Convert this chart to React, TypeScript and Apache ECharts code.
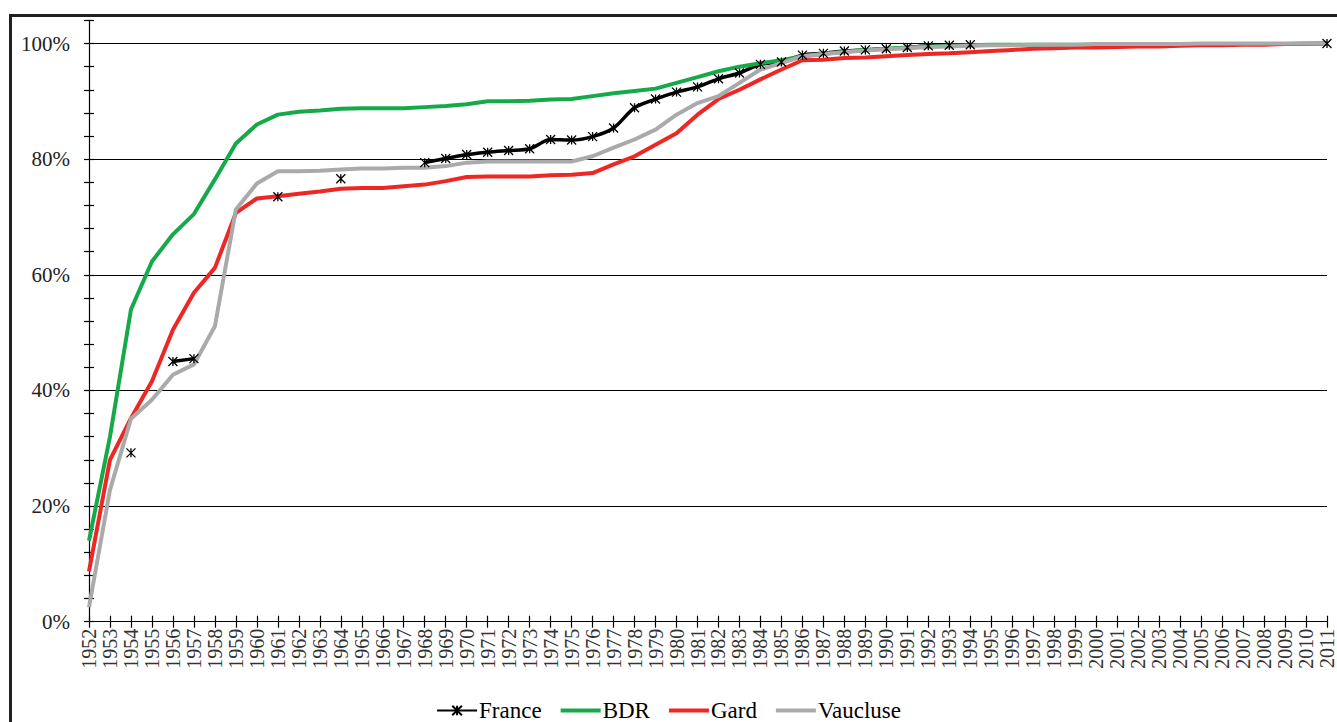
import React, { useEffect, useRef } from "react";
import * as echarts from "echarts";

const years: string[] = [];
for (let y = 1952; y <= 2011; y++) years.push(String(y));

const france: (number | null)[] = [
  null, null, 29.2, null, 45.0, 45.5, null, null, null, 73.5,
  null, null, 76.6, null, null, null, 79.4, 80.1, 80.8, 81.2,
  81.5, 81.8, 83.4, 83.3, 83.9, 85.4, 88.9, 90.4, 91.6, 92.5,
  93.9, 94.9, 96.4, 96.8, 98.0, 98.3, 98.7, 98.9, 99.1, 99.3,
  99.6, 99.7, 99.8, null, null, null, null, null, null, null,
  null, null, null, null, null, null, null, null, null, 100,
];

const bdr: number[] = [
  14.0, 32.0, 54.0, 62.3, 67.0, 70.5, 76.5, 82.7, 86.0, 87.7,
  88.2, 88.4, 88.7, 88.8, 88.8, 88.8, 89.0, 89.2, 89.5, 90.0,
  90.0, 90.1, 90.3, 90.4, 90.9, 91.4, 91.8, 92.2, 93.2, 94.2,
  95.2, 96.0, 96.6, 97.1, 97.8, 98.2, 98.6, 98.9, 99.1, 99.3,
  99.5, 99.6, 99.7, 99.8, 99.8, 99.8, 99.8, 99.8, 99.8, 99.8,
  99.8, 99.8, 99.9, 99.9, 99.9, 99.9, 99.9, 99.9, 100, 100,
];

const gard: number[] = [
  8.7, 28.0, 35.2, 41.6, 50.5, 56.9, 61.2, 70.7, 73.2, 73.6,
  74.0, 74.4, 74.9, 75.0, 75.0, 75.3, 75.6, 76.2, 76.9, 77.0,
  77.0, 77.0, 77.2, 77.3, 77.6, 79.1, 80.5, 82.5, 84.5, 87.7,
  90.4, 92.0, 93.8, 95.5, 97.1, 97.2, 97.5, 97.6, 97.8, 98.0,
  98.2, 98.3, 98.5, 98.7, 98.9, 99.1, 99.2, 99.3, 99.3, 99.4,
  99.5, 99.5, 99.6, 99.7, 99.7, 99.8, 99.8, 99.9, 99.9, 100,
];

const vaucluse: number[] = [
  2.5, 22.8, 35.1, 38.4, 42.7, 44.5, 51.1, 71.3, 75.8, 77.9,
  77.9, 78.0, 78.2, 78.4, 78.4, 78.5, 78.5, 78.8, 79.4, 79.6,
  79.6, 79.6, 79.6, 79.6, 80.5, 82.0, 83.4, 85.1, 87.7, 89.7,
  90.9, 93.2, 95.5, 96.6, 97.8, 98.2, 98.5, 98.8, 99.0, 99.2,
  99.4, 99.5, 99.6, 99.7, 99.7, 99.8, 99.8, 99.8, 99.9, 99.9,
  99.9, 99.9, 99.9, 100, 100, 100, 100, 100, 100, 100,
];

const seriesNames = ["France", "BDR", "Gard", "Vaucluse"];
const yTickLabels = [0, 20, 40, 60, 80, 100];

const FONT = "Liberation Serif";
const STAR = "path://M0,0L10,10M10,0L0,10M5,0L5,10";
const BAR_ICON = "path://M0,0H40V4H0Z";

export default function App() {
  const ref = useRef<HTMLDivElement>(null);

  useEffect(() => {
    if (!ref.current) return;
    const chart = echarts.init(ref.current, null, { renderer: "svg" });
    const yCommon = {
      type: "value" as const,
      min: 0,
      max: 104,
      interval: 4,
    };
    const option: any = {
      animation: false,
      textStyle: { fontFamily: FONT },
      grid: { left: 89, right: 10, top: 20.4, bottom: 100.3, containLabel: false },
      legend: {
        data: [
          { name: seriesNames[0] },
          { name: seriesNames[1], icon: BAR_ICON },
          { name: seriesNames[2], icon: BAR_ICON },
          { name: seriesNames[3], icon: BAR_ICON },
        ],
        left: "center",
        top: 699,
        itemWidth: 40,
        itemHeight: 12,
        itemGap: 19,
        padding: 0,
        textStyle: {
          fontFamily: FONT,
          fontSize: 23,
          lineHeight: 22,
          color: "#000",
          padding: [0, 0, 0, -3],
        },
      },
      xAxis: [
        {
          type: "category",
          data: years,
          boundaryGap: false,
          axisLine: { lineStyle: { color: "#000", width: 1.2 } },
          axisTick: { show: true, interval: 0, length: 6, lineStyle: { color: "#000", width: 1.2 } },
          axisLabel: {
            interval: 0,
            rotate: 90,
            margin: 7,
            fontFamily: FONT,
            fontSize: 20,
            color: "#333",
          },
          splitLine: { show: false },
        },
        {
          type: "category",
          data: years,
          boundaryGap: false,
          position: "bottom",
          axisLine: { show: false },
          axisTick: { show: true, interval: 0, inside: true, length: 6, lineStyle: { color: "#000", width: 1.2 } },
          axisLabel: { show: false },
          splitLine: { show: false },
        },
      ],
      yAxis: [
        {
          ...yCommon,
          axisLine: { show: true, lineStyle: { color: "#000", width: 1.2 } },
          axisTick: { show: true, length: 5, lineStyle: { color: "#000", width: 1.2 } },
          axisLabel: {
            margin: 19,
            fontFamily: FONT,
            fontSize: 21,
            color: "#222",
            formatter: (v: number) => (yTickLabels.indexOf(v) >= 0 ? v + "%" : ""),
          },
          splitLine: {
            show: true,
            lineStyle: { color: ["#000", "transparent", "transparent", "transparent", "transparent"], width: 1.2 },
          },
        },
        {
          ...yCommon,
          position: "left",
          axisLine: { show: false },
          axisTick: { show: true, inside: true, length: 5, lineStyle: { color: "#000", width: 1.2 } },
          axisLabel: { show: false },
          splitLine: { show: false },
        },
      ],
      series: [
        {
          name: "France",
          type: "line",
          data: france,
          connectNulls: false,
          smooth: 0.3,
          symbol: STAR,
          symbolSize: 9,
          showSymbol: true,
          lineStyle: { color: "#000", width: 3.5 },
          itemStyle: { color: "#000", borderColor: "#000", borderWidth: 1.3 },
        },
        {
          name: "BDR",
          type: "line",
          data: bdr,
          showSymbol: false,
          symbol: "none",
          lineStyle: { color: "#16a94a", width: 4 },
          itemStyle: { color: "#16a94a" },
        },
        {
          name: "Gard",
          type: "line",
          data: gard,
          showSymbol: false,
          symbol: "none",
          lineStyle: { color: "#ee2624", width: 4 },
          itemStyle: { color: "#ee2624" },
        },
        {
          name: "Vaucluse",
          type: "line",
          data: vaucluse,
          showSymbol: false,
          symbol: "none",
          lineStyle: { color: "#aaaaaa", width: 4 },
          itemStyle: { color: "#aaaaaa" },
        },
      ],
    };
    chart.setOption(option);
    return () => chart.dispose();
  }, []);

  return (
    <div
      style={{
        position: "fixed",
        left: 0,
        top: 0,
        width: 1337,
        height: 722,
        overflow: "hidden",
        background: "#fff",
      }}
    >
      <div
        style={{
          position: "absolute",
          left: 9,
          top: 14,
          width: 2000,
          height: 2000,
          borderTop: "3px solid #231f20",
          borderLeft: "3px solid #231f20",
        }}
      />
      <div ref={ref} style={{ position: "absolute", left: 0, top: 0, width: 1337, height: 722 }} />
    </div>
  );
}
